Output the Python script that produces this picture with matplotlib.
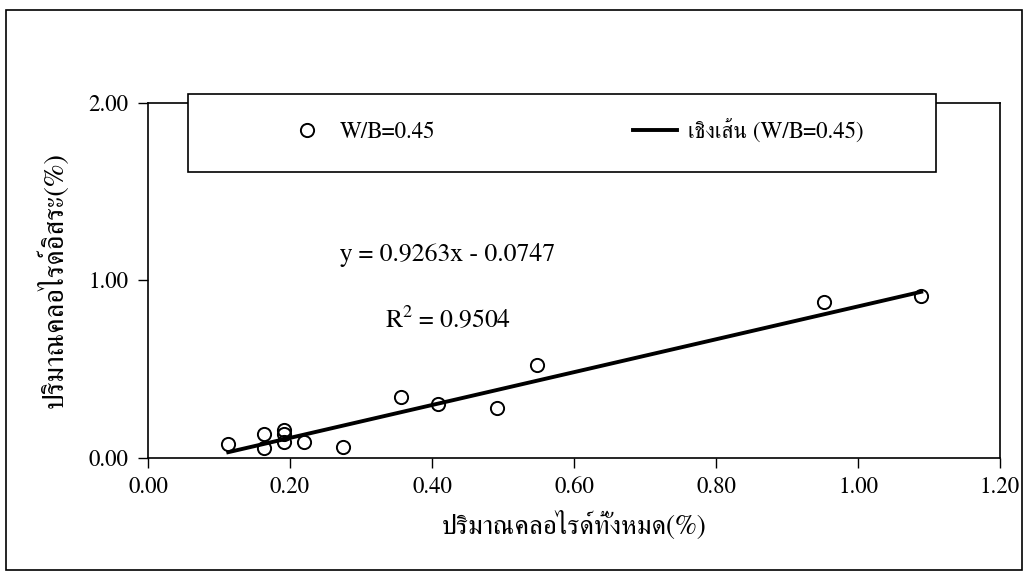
import matplotlib
matplotlib.use('Agg')
import matplotlib.pyplot as plt
import numpy as np
from matplotlib.patches import Rectangle
from matplotlib.lines import Line2D

plt.rcParams['font.family'] = ['FreeSerif', 'Liberation Serif', 'DejaVu Sans']
plt.rcParams['mathtext.fontset'] = 'custom'
plt.rcParams['mathtext.rm'] = 'FreeSerif'

# total chloride (%) vs free chloride (%), W/B = 0.45
total_cl = [0.113, 0.164, 0.164, 0.192, 0.192, 0.192, 0.220, 0.274,
            0.356, 0.409, 0.492, 0.548, 0.952, 1.089]
free_cl = [0.074, 0.132, 0.052, 0.155, 0.131, 0.089, 0.089, 0.061,
           0.343, 0.300, 0.277, 0.521, 0.875, 0.910]

# linear trend line (from the chart)
slope = 0.9263
intercept = -0.0747
r2 = 0.9504

x_ticks = [0.0, 0.2, 0.4, 0.6, 0.8, 1.0, 1.2]
y_ticks = [0.0, 1.0, 2.0]

W, H = 1030, 585
fig = plt.figure(figsize=(W / 100, H / 100), dpi=100)
ax = fig.add_axes([148 / W, 1 - 457.5 / H, (1000 - 148) / W, (457.5 - 102.7) / H])

ax.plot(total_cl, free_cl, linestyle='none', marker='o', markersize=9.5,
        markerfacecolor='none', markeredgecolor='black', markeredgewidth=1.4, zorder=3)

xs = np.array([min(total_cl), max(total_cl)])
ax.plot(xs, slope * xs + intercept, color='black', linewidth=2.8, zorder=2)

ax.set_xlim(0, 1.2)
ax.set_ylim(0, 2)
ax.set_xticks(x_ticks)
ax.set_yticks(y_ticks)
ax.set_xticklabels(['%.2f' % v for v in x_ticks])
ax.set_yticklabels(['%.2f' % v for v in y_ticks])
ax.tick_params(direction='out', length=7, width=1, labelsize=16.5, pad=7)
for s in ax.spines.values():
    s.set_linewidth(1.2)

ax.set_xlabel('ปริมาณคลอไรด์ทั้งหมด(%)', fontsize=19.5, labelpad=9)
ax.set_ylabel('ปริมาณคลอไรด์อิสระ(%)', fontsize=20.5, labelpad=14)

ax.text(0.422, 1.14, 'y = 0.9263x - 0.0747', fontsize=18.5, ha='center', va='center')
ax.text(0.423, 0.78, 'R$^{2}$ = %.4f' % r2, fontsize=18.5, ha='center', va='center')

# legend box sitting over the top of the plot area
fig.patches.append(Rectangle((188 / W, 1 - 172 / H), (936 - 188) / W, (172 - 94) / H,
                             transform=fig.transFigure, facecolor='white',
                             edgecolor='black', linewidth=1.2, zorder=4))
handles = [Line2D([], [], linestyle='none', marker='o', markersize=9.5,
                  markerfacecolor='none', markeredgecolor='black', markeredgewidth=1.4),
           Line2D([], [], color='black', linewidth=2.8)]
fig.legend(handles, ['W/B=0.45', 'เชิงเส้น (W/B=0.45)'], ncol=2, frameon=False,
           loc='center left', bbox_to_anchor=(285 / W, 1 - 131 / H, (864 - 285) / W, 0.001),
           mode='expand', fontsize=16.5, handlelength=1.9, handletextpad=0.5,
           borderaxespad=0, borderpad=0)

# outer frame
fig.patches.append(Rectangle((6 / W, 1 - 570 / H), (1022 - 6) / W, (570 - 10) / H,
                             transform=fig.transFigure, facecolor='none',
                             edgecolor='black', linewidth=1.2, zorder=0))

fig.savefig('out.png', dpi=100)
